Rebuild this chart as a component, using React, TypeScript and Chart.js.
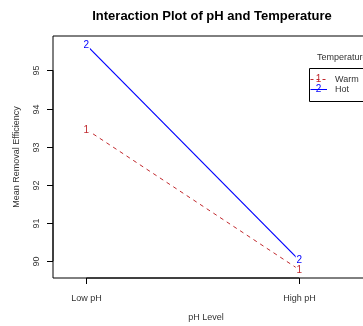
import React, { useEffect, useRef } from "react";
import { Chart, registerables } from "chart.js";
Chart.register(...registerables);

const categories = ["Low pH", "High pH"];
const seriesNames = ["Warm", "Hot"];
const warmValues = [93.45, 89.78];
const hotValues = [95.66, 90.03];
const yTicks = [90, 91, 92, 93, 94, 95];
const pointLabels = ["1", "2"];
const seriesColors = ["#C0282D", "#0000FF"];

const FONT = "'Liberation Sans', Arial, Helvetica, sans-serif";

export default function App() {
  const ref = useRef<HTMLCanvasElement>(null);
  useEffect(() => {
    document.body.style.margin = "0";
    const canvas = ref.current!;
    const plugin = {
      id: "rstyle",
      afterDatasetsDraw(chart: any) {
        const ctx = chart.ctx as CanvasRenderingContext2D;
        const ca = chart.chartArea;
        const xs = chart.scales.x;
        const ys = chart.scales.y;
        ctx.save();
        ctx.setLineDash([]);
        // gaps around points (type = "b")
        chart.data.datasets.forEach((_: any, di: number) => {
          const meta = chart.getDatasetMeta(di);
          meta.data.forEach((pt: any) => {
            ctx.fillStyle = "#FFFFFF";
            ctx.fillRect(pt.x - 3.5, pt.y - 5, 7, 10);
          });
        });
        ctx.font = `10px ${FONT}`;
        ctx.textAlign = "center";
        ctx.textBaseline = "middle";
        chart.data.datasets.forEach((_: any, di: number) => {
          const meta = chart.getDatasetMeta(di);
          meta.data.forEach((pt: any) => {
            ctx.fillStyle = seriesColors[di];
            ctx.fillText(pointLabels[di], pt.x, pt.y + 0.5);
          });
        });

        // box, right side off-canvas
        ctx.strokeStyle = "#000";
        ctx.lineWidth = 1;
        ctx.beginPath();
        ctx.moveTo(ca.right + 20, ca.top);
        ctx.lineTo(ca.left, ca.top);
        ctx.lineTo(ca.left, ca.bottom);
        ctx.lineTo(ca.right + 20, ca.bottom);
        ctx.stroke();

        // y axis
        const yTop = ys.getPixelForValue(yTicks[yTicks.length - 1]);
        const yBot = ys.getPixelForValue(yTicks[0]);
        ctx.beginPath();
        ctx.moveTo(ca.left, yTop);
        ctx.lineTo(ca.left, yBot);
        ctx.stroke();
        ctx.font = `9px ${FONT}`;
        ctx.fillStyle = "#333";
        yTicks.forEach((t) => {
          const py = Math.round(ys.getPixelForValue(t)) + 0.5;
          ctx.beginPath();
          ctx.moveTo(ca.left, py);
          ctx.lineTo(ca.left - 6, py);
          ctx.stroke();
          ctx.save();
          ctx.translate(37, py);
          ctx.rotate(-Math.PI / 2);
          ctx.textAlign = "center";
          ctx.textBaseline = "middle";
          ctx.fillText(String(t), 0, 0);
          ctx.restore();
        });

        // x axis
        const x1 = xs.getPixelForValue(1);
        const x2 = xs.getPixelForValue(categories.length);
        ctx.beginPath();
        ctx.moveTo(x1, ca.bottom);
        ctx.lineTo(x2, ca.bottom);
        ctx.stroke();
        categories.forEach((c, i) => {
          const px = Math.round(xs.getPixelForValue(i + 1)) + 0.5;
          ctx.beginPath();
          ctx.moveTo(px, ca.bottom);
          ctx.lineTo(px, ca.bottom + 6);
          ctx.stroke();
          ctx.textAlign = "center";
          ctx.textBaseline = "middle";
          ctx.fillText(c, px, 298.5);
        });

        // axis titles
        ctx.fillText("pH Level", 206, 318);
        ctx.save();
        ctx.translate(16.5, (ca.top + ca.bottom) / 2);
        ctx.rotate(-Math.PI / 2);
        ctx.fillText("Mean Removal Efficiency", 0, 0);
        ctx.restore();

        // main title
        ctx.fillStyle = "#000";
        ctx.font = `bold 13px ${FONT}`;
        ctx.fillText("Interaction Plot of pH and Temperature", 212, 16);

        // legend
        ctx.font = `9px ${FONT}`;
        ctx.fillStyle = "#333";
        ctx.textAlign = "left";
        ctx.fillText("Temperature", 317, 57.5);
        ctx.strokeStyle = "#000";
        ctx.beginPath();
        ctx.rect(309.5, 68.5, 100, 33);
        ctx.stroke();
        const legY = [79.5, 89.5];
        seriesNames.forEach((name, i) => {
          ctx.strokeStyle = seriesColors[i];
          ctx.setLineDash(i === 0 ? [3, 3] : []);
          ctx.beginPath();
          ctx.moveTo(310.5, legY[i]);
          ctx.lineTo(327, legY[i]);
          ctx.stroke();
          ctx.setLineDash([]);
          ctx.fillStyle = seriesColors[i];
          ctx.textAlign = "center";
          ctx.font = `10px ${FONT}`;
          ctx.fillText(pointLabels[i], 318.5, legY[i]);
          ctx.fillStyle = "#333";
          ctx.textAlign = "left";
          ctx.font = `9px ${FONT}`;
          ctx.fillText(name, 335, legY[i]);
        });
        ctx.restore();
      },
    };
    const chart = new Chart(canvas, {
      type: "line",
      data: {
        datasets: [
          {
            label: seriesNames[0],
            data: categories.map((_, i) => ({ x: i + 1, y: warmValues[i] })),
            borderColor: seriesColors[0],
            borderDash: [4, 4],
            borderWidth: 1,
            pointRadius: 0,
            tension: 0,
          },
          {
            label: seriesNames[1],
            data: categories.map((_, i) => ({ x: i + 1, y: hotValues[i] })),
            borderColor: seriesColors[1],
            borderWidth: 1.2,
            pointRadius: 0,
            tension: 0,
          },
        ],
      },
      options: {
        animation: false,
        responsive: false,
        devicePixelRatio: 1,
        layout: { padding: { left: 53, top: 36, right: 0, bottom: 48 } },
        scales: {
          x: { type: "linear", min: 0.843, max: 2.3, display: false },
          y: { type: "linear", min: 89.56, max: 95.9, display: false },
        },
        plugins: {
          legend: { display: false },
          tooltip: { enabled: false },
          title: { display: false },
        },
      },
      plugins: [plugin],
    });
    return () => chart.destroy();
  }, []);
  return <canvas ref={ref} width={363} height={326} style={{ display: "block" }} />;
}
